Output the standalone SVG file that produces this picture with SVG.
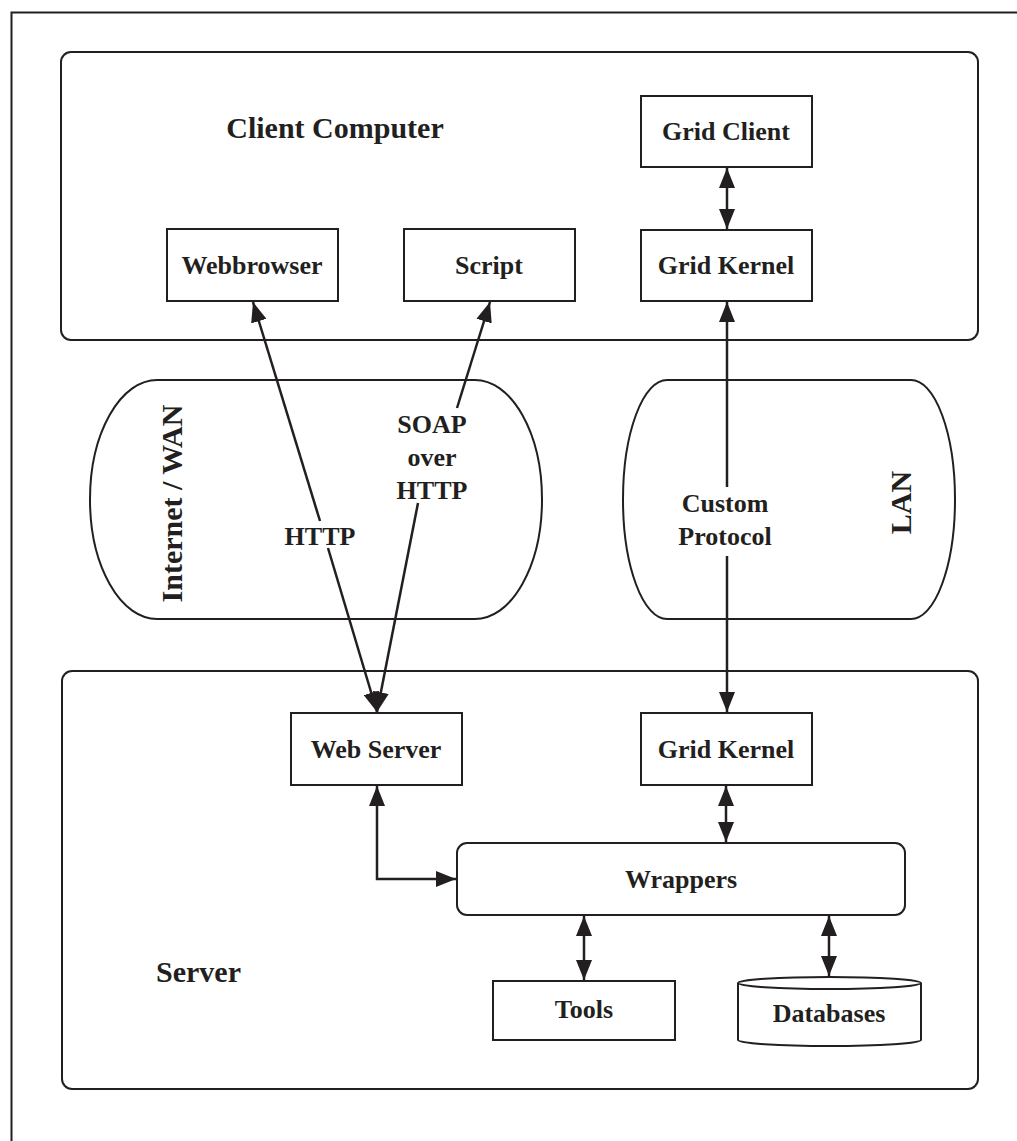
<svg xmlns="http://www.w3.org/2000/svg" width="1017" height="1141" viewBox="0 0 1017 1141">
<style>
.box{fill:#fff;stroke:#231f20;stroke-width:2}
.frame{fill:none;stroke:#231f20;stroke-width:2}
.lbl{font-family:"Liberation Serif","Times New Roman",serif;font-weight:bold;font-size:26px;fill:#231f20;text-anchor:middle}
.big{font-family:"Liberation Serif","Times New Roman",serif;font-weight:bold;font-size:30px;fill:#231f20}
.con{fill:none;stroke:#231f20;stroke-width:2.5}
</style>
<defs>
<marker id="ah" viewBox="0 0 20 16" refX="20" refY="8" markerWidth="20" markerHeight="16" markerUnits="userSpaceOnUse" orient="auto-start-reverse">
<path d="M0,0 L20,8 L0,16 z" fill="#231f20"/>
</marker>
</defs>
<rect width="1017" height="1141" fill="#fff"/>
<g id="outer-frame">
<path d="M11.5,1141 V12.5 H1017" class="frame"/>
</g>
<g id="client-computer">
<rect x="61" y="52" width="917" height="288" rx="10" class="box"/>
<text x="335" y="138" class="big" text-anchor="middle">Client Computer</text>
</g>
<g id="server">
<rect x="62" y="671" width="916" height="418" rx="10" class="box"/>
<text x="156" y="982" class="big">Server</text>
</g>
<g id="internet-wan">
<path d="M157,380 H475 A67,119.5 0 0 1 475,619 H157 A67,119.5 0 0 1 157,380 Z" class="box"/>
<text transform="translate(182,503.5) rotate(-90)" x="0" y="0" class="big" text-anchor="middle">Internet / WAN</text>
</g>
<g id="lan">
<path d="M667,380 H911 A44,119.5 0 0 1 911,619 H667 A44,119.5 0 0 1 667,380 Z" class="box"/>
<text transform="translate(911,502.5) rotate(-90)" x="0" y="0" class="big" text-anchor="middle">LAN</text>
</g>
<g id="webbrowser">
<rect x="167" y="229" width="171" height="72" class="box"/>
<text x="252" y="274" class="lbl">Webbrowser</text>
</g>
<g id="script">
<rect x="404" y="229" width="171" height="72" class="box"/>
<text x="489" y="274" class="lbl">Script</text>
</g>
<g id="grid-client">
<rect x="641" y="96" width="171" height="71" class="box"/>
<text x="726" y="140" class="lbl">Grid Client</text>
</g>
<g id="grid-kernel-client">
<rect x="641" y="230" width="171" height="71" class="box"/>
<text x="726" y="274" class="lbl">Grid Kernel</text>
</g>
<g id="web-server">
<rect x="291" y="713" width="171" height="72" class="box"/>
<text x="376" y="758" class="lbl">Web Server</text>
</g>
<g id="grid-kernel-server">
<rect x="641" y="713" width="171" height="72" class="box"/>
<text x="726" y="758" class="lbl">Grid Kernel</text>
</g>
<g id="wrappers">
<rect x="457" y="843" width="448" height="72" rx="10" class="box"/>
<text x="681" y="888" class="lbl">Wrappers</text>
</g>
<g id="tools">
<rect x="493" y="981" width="182" height="59" class="box"/>
<text x="584" y="1018" class="lbl">Tools</text>
</g>
<g id="databases">
<path d="M738,983 V1040 A91.5,6 0 0 0 921,1040 V983" class="box"/>
<ellipse cx="829.5" cy="983" rx="91.5" ry="6" class="box"/>
<text x="829" y="1022" class="lbl">Databases</text>
</g>
<g id="connectors">
<line x1="727" y1="168" x2="727" y2="229" class="con" marker-start="url(#ah)" marker-end="url(#ah)"/>
<line x1="727" y1="487" x2="727" y2="302" class="con" marker-end="url(#ah)"/>
<line x1="727" y1="556" x2="727" y2="712" class="con" marker-end="url(#ah)"/>
<line x1="320" y1="521" x2="253" y2="302" class="con" marker-end="url(#ah)"/>
<line x1="328" y1="548" x2="377" y2="712" class="con" marker-end="url(#ah)"/>
<line x1="457" y1="408" x2="490" y2="302" class="con" marker-end="url(#ah)"/>
<line x1="418" y1="503" x2="377" y2="712" class="con" marker-end="url(#ah)"/>
<path d="M377,786 V879 H456" class="con" marker-start="url(#ah)" marker-end="url(#ah)"/>
<line x1="726" y1="786" x2="726" y2="842" class="con" marker-start="url(#ah)" marker-end="url(#ah)"/>
<line x1="584" y1="916" x2="584" y2="980" class="con" marker-start="url(#ah)" marker-end="url(#ah)"/>
<line x1="829" y1="916" x2="829" y2="976" class="con" marker-start="url(#ah)" marker-end="url(#ah)"/>
<text x="320" y="545" class="lbl">HTTP</text>
<text x="432" y="433" class="lbl">SOAP</text>
<text x="432" y="466" class="lbl">over</text>
<text x="432" y="499" class="lbl">HTTP</text>
<text x="725" y="512" class="lbl">Custom</text>
<text x="725" y="545" class="lbl">Protocol</text>
</g>
</svg>
